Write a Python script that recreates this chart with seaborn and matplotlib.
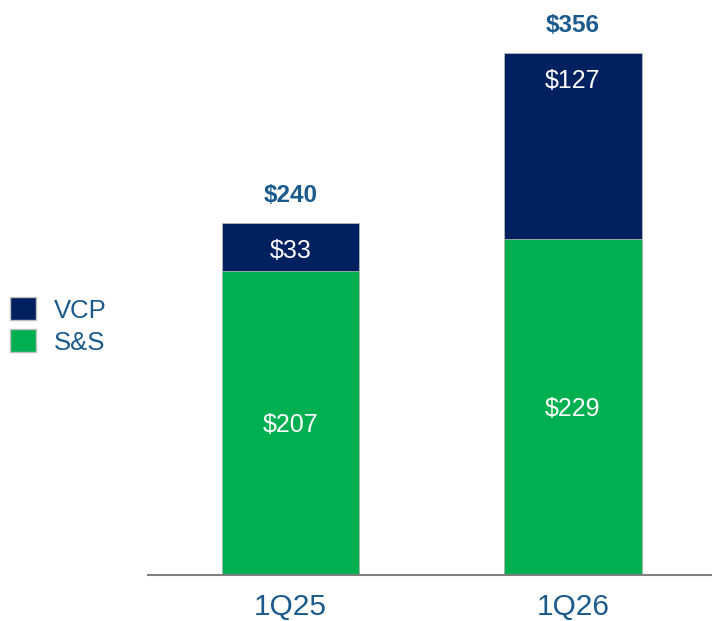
import matplotlib
matplotlib.use("Agg")
import matplotlib.pyplot as plt
import seaborn as sns
import pandas as pd
from matplotlib.patches import Patch

quarters = ["1Q25", "1Q26"]
ss_values = [207, 229]
vcp_values = [33, 127]
total_values = [240, 356]

NAVY = "#002060"
GREEN = "#00B050"
TEXT_BLUE = "#1B5A8C"

sns.set_theme(style="white")
plt.rcParams['font.family'] = ['Liberation Sans', 'DejaVu Sans']

df = pd.DataFrame({"quarter": quarters, "ss": ss_values, "vcp": vcp_values,
                   "total": total_values})

fig = plt.figure(figsize=(7.12, 6.21), dpi=100)
ax = fig.add_axes([0.2079, 0.0741, 0.7921, 0.9259])

sns.barplot(data=df, x="quarter", y="total", color=NAVY, saturation=1,
            width=0.485, ax=ax, edgecolor="#c0c0c0", linewidth=0.5)
sns.barplot(data=df, x="quarter", y="ss", color=GREEN, saturation=1,
            width=0.485, ax=ax, edgecolor="#c0c0c0", linewidth=0.5)

ax.set_xlim(-0.504, 1.492)
ax.set_ylim(0, 392)

for i, (s, v, t) in enumerate(zip(ss_values, vcp_values, total_values)):
    ax.text(i, s / 2 - 1, f"${s}", ha="center", va="center", color="white",
            fontsize=18)
    ax.text(i, t - 19, f"${v}", ha="center", va="center", color="white",
            fontsize=18)
    ax.annotate(f"${t}", xy=(i, t), xytext=(0, 20), textcoords="offset points",
                ha="center", va="center", color=TEXT_BLUE, fontsize=17.5,
                fontweight="bold")

ax.set_xlabel("")
ax.set_ylabel("")
ax.set_yticks([])
ax.tick_params(axis="x", length=0, pad=13, labelsize=21.5, labelcolor=TEXT_BLUE)
for side in ["top", "right", "left"]:
    ax.spines[side].set_visible(False)
ax.spines["bottom"].set_color("#808080")
ax.spines["bottom"].set_linewidth(1.5)

handles = [Patch(facecolor=NAVY, edgecolor="#c0c0c0", label="VCP"),
           Patch(facecolor=GREEN, edgecolor="#c0c0c0", label="S&S")]
leg = fig.legend(handles=handles, loc="center left",
                 bbox_to_anchor=(0.0, 1 - 326 / 621), frameon=False,
                 fontsize=18.5, handlelength=1.0, handleheight=1.0,
                 handletextpad=0.7, labelspacing=0.25, borderaxespad=0,
                 borderpad=0.4)
for t in leg.get_texts():
    t.set_color(TEXT_BLUE)

fig.savefig("out.png", dpi=100)
